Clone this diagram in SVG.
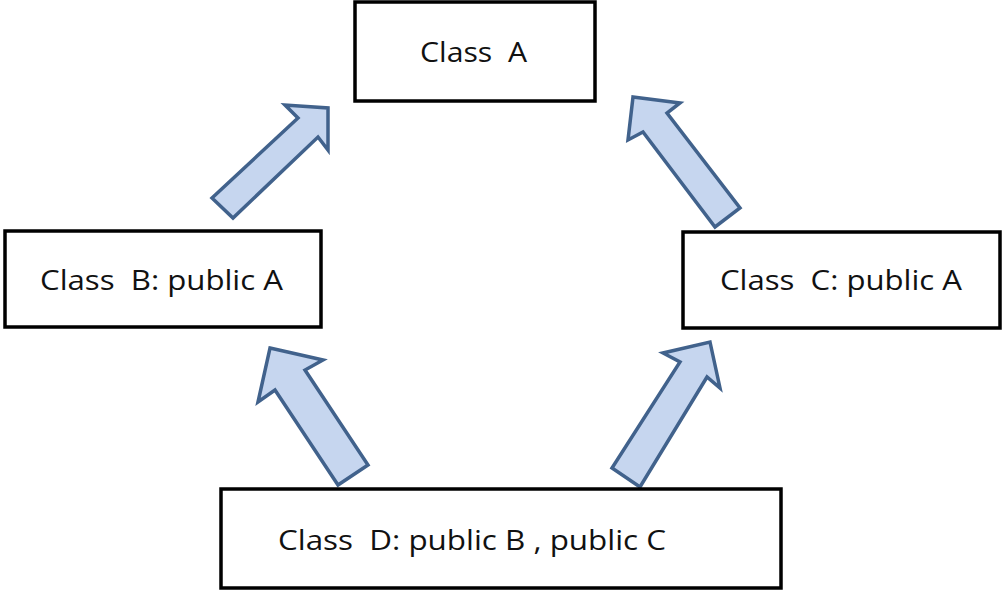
<svg xmlns="http://www.w3.org/2000/svg" width="1005" height="592" viewBox="0 0 1005 592">
<style>
.box{fill:#fff;stroke:#000;stroke-width:3.5}
.lbl{font-family:"Open Sans","Noto Sans",sans-serif;font-size:28px;fill:#111}
.arr{fill:#c6d6ef;stroke:#41628c;stroke-width:3.5;stroke-linejoin:miter}
</style>
<rect width="1005" height="592" fill="#fff"/>
<g id="connectors">
<polygon class="arr" points="212,198 233,218 318,137 328,150 328,108 285,105 298,118"/>
<polygon class="arr" points="633,97 680,103 667,113 740,208 715,227 643,132 628,140"/>
<polygon class="arr" points="270,348 323,360 305,370 368,465 338,485 275,390 258,402"/>
<polygon class="arr" points="710,342 720,388 707,377 640,487 612,468 680,362 663,353"/>
</g>
<g id="classA">
<rect class="box" x="355" y="2" width="240" height="99"/>
<text class="lbl" x="420" y="62" textLength="107" lengthAdjust="spacingAndGlyphs" xml:space="preserve">Class  A</text>
</g>
<g id="classB">
<rect class="box" x="5" y="231" width="316" height="96"/>
<text class="lbl" x="40" y="290" textLength="243" lengthAdjust="spacingAndGlyphs" xml:space="preserve">Class  B: public A</text>
</g>
<g id="classC">
<rect class="box" x="683" y="232" width="317" height="96"/>
<text class="lbl" x="720" y="290" textLength="242" lengthAdjust="spacingAndGlyphs" xml:space="preserve">Class  C: public A</text>
</g>
<g id="classD">
<rect class="box" x="221" y="489" width="560" height="99"/>
<text class="lbl" x="278" y="550" textLength="388" lengthAdjust="spacingAndGlyphs" xml:space="preserve">Class  D: public B , public C</text>
</g>
</svg>
